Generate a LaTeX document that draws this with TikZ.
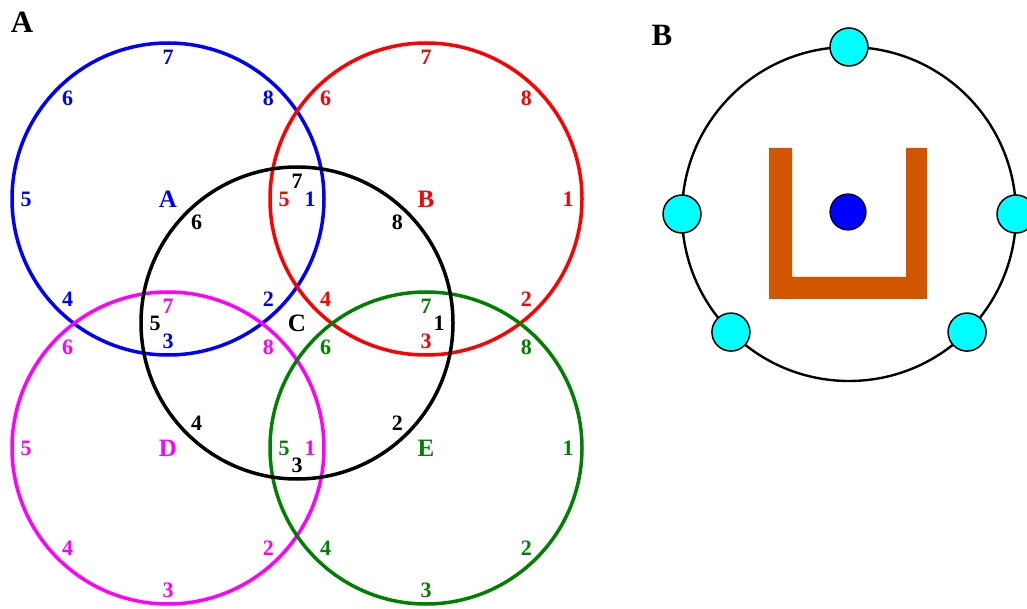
\documentclass[tikz,border=0pt]{standalone}
\usepackage{fontspec}
\setmainfont{Liberation Serif}
\definecolor{ringblue}{RGB}{0,0,255}
\definecolor{ringred}{RGB}{255,0,0}
\definecolor{ringpink}{RGB}{255,0,255}
\definecolor{ringgreen}{RGB}{0,128,0}
\definecolor{ringblack}{RGB}{0,0,0}
\definecolor{ushape}{RGB}{210,86,0}
\definecolor{satcyan}{RGB}{0,255,255}

\begin{document}
\begin{tikzpicture}[x=1pt,y=-1pt,
  ring/.style={line width=3.5pt},
  num/.style={inner sep=0pt,font=\fontsize{22}{22}\selectfont\bfseries},
  cname/.style={inner sep=0pt,font=\fontsize{25}{25}\selectfont\bfseries},
  panel/.style={inner sep=0pt,font=\fontsize{31}{31}\selectfont\bfseries},
  sat/.style={circle,draw=black,line width=1.5pt,fill=satcyan,minimum size=38pt,inner sep=0pt}]
  \useasboundingbox (0,0) rectangle (1027,609);
  \node[panel] (pa) at (22,22) {A};
  \node[panel] (pb) at (662,35) {B};
  % five rings, numbered 1..8 round each
  \foreach \n/\L/\x/\y/\c in {a/A/168/199/ringblue, b/B/426/199/ringred, d/D/168/448/ringpink, e/E/426/448/ringgreen, c/C/297/323/ringblack}{
    \coordinate (c\n) at (\x,\y);
    \draw[ring,\c] (c\n) circle (156);
    \node[cname,text=\c] (l\n) at (c\n) {\L};
    \foreach \k in {1,...,8}
      \node[num,text=\c] (n\n\k) at ([shift={({(\k-1)*45}:142)}]c\n) {\k};
  }
  % panel B
  \coordinate (hub) at (849,214);
  \draw[line width=2.4pt] (hub) circle (167);
  \fill[ushape] (769,148) -- (792,148) -- (792,277) -- (906,277) -- (906,148) -- (927,148) -- (927,299) -- (769,299) -- cycle;
  \node[circle,draw=black,line width=1.2pt,fill=ringblue,minimum size=36pt,inner sep=0pt] (core) at (848,212) {};
  \foreach \a [count=\i] in {270,180,0,135,45}
    \node[sat] (s\i) at ([shift={(\a:167)}]hub) {};
\end{tikzpicture}
\end{document}
